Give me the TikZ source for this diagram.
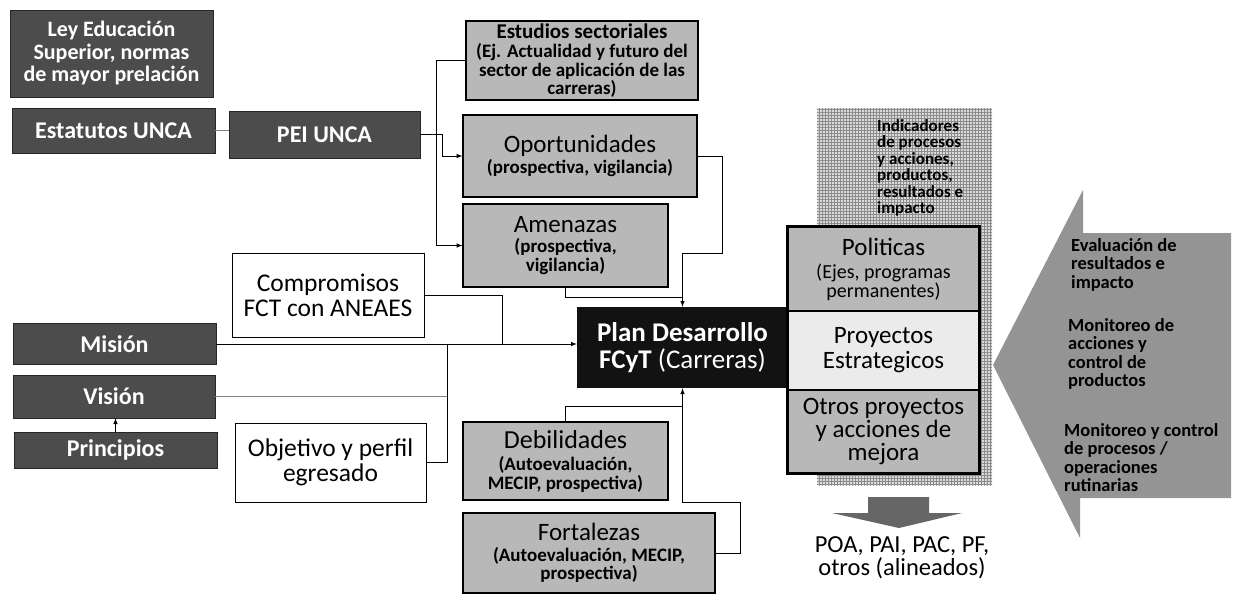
\documentclass[tikz,border=0pt]{standalone}
\usepackage{fontspec}
\setmainfont{Carlito}
\usepackage{tikz}
\usetikzlibrary{patterns}
\usetikzlibrary{arrows}

\newcommand{\fsz}[2]{\fontsize{#1}{#2}\selectfont}

\begin{document}
\begin{tikzpicture}[x=1pt,y=-1pt,>=latex,
	oscura/.style={draw=black!85,fill=black!70,text=white,font=\fsz{24}{24}\bfseries,inner sep=0pt,align=center},
	gris/.style={draw=black,line width=1.2pt,fill=black!28,inner sep=0pt,align=center,font=\fsz{19}{18.5}\bfseries},
	blanca/.style={draw=black,line width=1pt,fill=white,inner sep=0pt,align=center,font=\fsz{25.5}{25}},
	columna/.style={draw=black,line width=1.4pt,inner sep=0pt,align=center,minimum width=191pt},
	lista/.style={inner sep=0pt,align=left,anchor=north west,font=\fsz{18.5}{18.5}\bfseries},
	linea/.style={line width=1pt}]
		\useasboundingbox (0,0) rectangle (1233,595);
		%\draw [help lines,step=50] (0,0) grid (1233,595);
		
		% Normas
		\node [oscura,font=\fsz{22}{22.5}\bfseries,minimum width=203pt,minimum height=87pt] (ley) at (111.5,53.5) {Ley Educación\\Superior, normas\\de mayor prelación};
		\node [oscura,minimum width=203pt,minimum height=45pt] (estatutos) at (113.5,130.5) {Estatutos UNCA};
		\node [oscura,minimum width=191pt,minimum height=47pt] (pei) at (324.5,134.5) {PEI UNCA};
		
		% Mision, vision, principios
		\node [oscura,minimum width=203pt,minimum height=41pt] (mision) at (114.5,344) {Misión};
		\node [oscura,minimum width=202pt,minimum height=43pt] (vision) at (114,396.5) {Visión};
		\node [oscura,minimum width=203pt,minimum height=36pt] (principios) at (115.5,450) {Principios};
		
		% Cajas blancas
		\node [blanca,minimum width=192pt,minimum height=84pt] (compromisos) at (328,295) {Compromisos\\FCT con ANEAES};
		\node [blanca,minimum width=191pt,minimum height=79pt] (objetivo) at (330.5,462.5) {Objetivo y perfil\\egresado};
		
		% Analisis externo
		\node [gris,minimum width=232pt,minimum height=79pt] (estudios) at (582,60.5) {{\fsz{21}{22}Estudios sectoriales}\\[1pt](Ej. Actualidad y futuro del\\sector de aplicación de las\\carreras)};
		\node [gris,minimum width=234pt,minimum height=82pt] (oportunidades) at (580,156) {{\fsz{25}{24}\mdseries Oportunidades}\\[2pt](prospectiva, vigilancia)};
		\node [gris,minimum width=205pt,minimum height=83pt] (amenazas) at (565.5,245.5) {{\fsz{25}{24}\mdseries Amenazas}\\[2pt](prospectiva,\\vigilancia)};
		
		% Analisis interno
		\node [gris,minimum width=205pt,minimum height=78pt] (debilidades) at (565.5,461) {{\fsz{26}{26}\mdseries Debilidades}\\[4pt](Autoevaluación,\\MECIP, prospectiva)};
		\node [gris,minimum width=252pt,minimum height=80pt] (fortalezas) at (589,553) {{\fsz{25}{23}\mdseries Fortalezas}\\[2pt](Autoevaluación, MECIP,\\prospectiva)};
		
		% Plan
		\node [fill=black!93,text=white,inner sep=0pt,align=center,font=\fsz{27}{27},minimum width=211pt,minimum height=81pt] (plan) at (682.5,347.5) {\textbf{Plan Desarrollo}\\\textbf{FCyT} (Carreras)};
		
		% Indicadores
		\fill [black!14] (817,108) rectangle (992,485);
		\fill [pattern=grid,pattern color=black!45] (817,108) rectangle (992,485);
		\node [lista,font=\fsz{17}{16.5}\bfseries] (indicadores) at (877,119) {Indicadores\\de procesos\\y acciones,\\productos,\\resultados e\\impacto};
		
		% Columna de proyectos
		\node [columna,fill=black!28,minimum height=84pt,font=\fsz{20}{18}] (politicas) at (883.5,269) {{\fsz{25}{25}Politicas}\\[5pt](Ejes, programas\\permanentes)};
		\node [columna,fill=black!8,minimum height=79pt,font=\fsz{25}{25}] (proyectos) at (883.5,350.5) {Proyectos\\Estrategicos};
		\node [columna,fill=black!28,minimum height=83pt,font=\fsz{25}{23}] (otros) at (883.5,431.5) {Otros proyectos\\y acciones de\\mejora};
		\draw [line width=2.6pt] (politicas.north west) rectangle (otros.south east);
		
		% Flecha hacia abajo
		\fill [black!60] (868,497) -- (929,497) -- (929,513) -- (962,513) -- (899,528) -- (832,513) -- (868,513) -- cycle;
		\node [align=center,inner sep=0pt,font=\fsz{24.5}{23}] (poa) at (902,558) {POA, PAI, PAC, PF,\\otros (alineados)};
		
		% Flecha de seguimiento
		\fill [black!42] (1231,233) -- (1083,233) -- (1083,190) -- (993,365) -- (1080,538) -- (1080,498) -- (1231,498) -- cycle;
		\node [lista] (evaluacion) at (1071,238) {Evaluación de\\resultados e\\impacto};
		\node [lista] (monacciones) at (1068,318) {Monitoreo de\\acciones y\\control de\\productos};
		\node [lista] (monprocesos) at (1064,423) {Monitoreo y control\\de procesos /\\operaciones\\rutinarias};
		
		% Conectores
		\coordinate (cunion) at (502,344);
		\coordinate (vunion) at (447,344);
		\coordinate (aunion) at (682.5,297);
		\coordinate (dunion) at (682.5,406);
		\draw [linea,gray] (estatutos.east) -- (estatutos.east -| pei.west);
		\draw [linea,->] (pei.east) -- ++(22,0) |- (oportunidades.west);
		\draw [linea,->] (estudios.west) -- ++(-29,0) |- (amenazas.west);
		\draw [linea,->] (oportunidades.east) -| ++(25,97) -| (plan.north);
		\draw [linea] (amenazas.south) |- (aunion);
		\draw [linea,->] (mision.east) -- (mision.east -| plan.west);
		\draw [linea] (compromisos.east) -| (cunion);
		\draw [linea] (objetivo.east) -| (vunion);
		\draw [linea,gray] (vision.east) -- (vision.east -| vunion);
		\draw [linea,->] (principios.north) -- (principios.north |- vision.south);
		\draw [linea] (debilidades.north) |- (dunion);
		\draw [linea,->] (fortalezas.east) -| ++(25,-51) -| (plan.south);
	\end{tikzpicture}
\end{document}
